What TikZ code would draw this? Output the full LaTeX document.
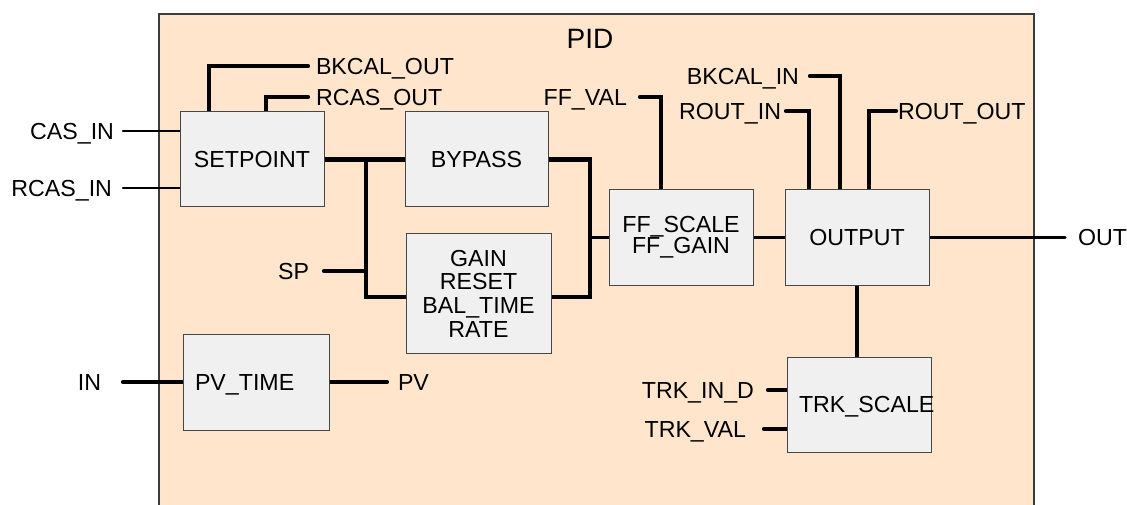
\documentclass[tikz,border=0pt]{standalone}
\usepackage{fontspec}
\setmainfont{Liberation Sans}
\definecolor{framefill}{RGB}{255,229,204}
\definecolor{frameline}{RGB}{60,60,60}
\definecolor{boxfill}{RGB}{240,240,240}
\definecolor{boxline}{RGB}{70,70,70}
\pgfdeclarelayer{framelayer}
\pgfdeclarelayer{wirelayer}
\pgfsetlayers{framelayer,wirelayer,main}
\begin{document}
\begin{tikzpicture}[x=1pt,y=-1pt,
  every node/.style={font=\fontsize{23.2}{23.7}\selectfont, inner sep=0pt, outer sep=0pt},
  blk/.style={draw=boxline, fill=boxfill, line width=1pt, rectangle, align=center},
  one/.style={text height=16.6pt, text depth=0pt},
  lbl/.style={text height=16.6pt, text depth=0pt},
  wire/.style={line width=4.2pt, line cap=round, line join=miter},
  midwire/.style={line width=3.2pt, line cap=round},
  thinwire/.style={line width=2.4pt, line cap=round}]
\useasboundingbox (0,0) rectangle (1127,505);

\begin{pgfonlayer}{framelayer}
  \fill[framefill] (159,14) rectangle (1034,505);
  \draw[frameline, line width=1.2pt] (159,505) -- (159,14) -- (1034,14) -- (1034,505);
\end{pgfonlayer}

% title
\node[font=\fontsize{28}{30}\selectfont, text height=20pt, text depth=0pt] (pid) at (590,39) {PID};

% blocks
\node[blk, one, minimum width=144pt, minimum height=95pt] (setpoint) at (252,159.5) {SETPOINT};
\node[blk, one, minimum width=143pt, minimum height=95pt] (bypass) at (476.5,159.5) {BYPASS};
\node[blk, minimum width=145pt, minimum height=119pt] (gain) at (478.5,293.5)
  {GAIN\\RESET\\BAL\_TIME\\RATE};
\node[blk, one, minimum width=146pt, minimum height=96pt, text width=122pt, align=left] (pvtime) at (256,382) {PV\_TIME};
\node[blk, minimum width=144pt, minimum height=95pt, font=\fontsize{23.2}{21}\selectfont] (ff) at (681,237.5) {FF\_SCALE\\FF\_GAIN};
\node[blk, one, minimum width=144pt, minimum height=95pt] (output) at (857,237.5) {OUTPUT};
\node[blk, one, minimum width=144pt, minimum height=95pt, text width=120pt, align=left] (trk) at (859,404.5) {TRK\_SCALE};

% labels
\node[lbl, anchor=west] (bkcalout) at (316,66) {BKCAL\_OUT};
\node[lbl, anchor=west] (rcasout) at (316,97) {RCAS\_OUT};
\node[lbl, anchor=east] (casin) at (114,131) {CAS\_IN};
\node[lbl, anchor=east] (rcasin) at (112,188) {RCAS\_IN};
\node[lbl, anchor=east] (sp) at (309,271) {SP};
\node[lbl, anchor=east] (ffval) at (627,97) {FF\_VAL};
\node[lbl, anchor=east] (bkcalin) at (799,76) {BKCAL\_IN};
\node[lbl, anchor=east] (routin) at (781,111) {ROUT\_IN};
\node[lbl, anchor=west] (routout) at (898,111) {ROUT\_OUT};
\node[lbl, anchor=west] (out) at (1078,237.5) {OUT};
\node[lbl, anchor=east] (trkind) at (754,390) {TRK\_IN\_D};
\node[lbl, anchor=east] (trkval) at (746,429) {TRK\_VAL};
\node[lbl, anchor=east] (in) at (101,382) {IN};
\node[lbl, anchor=west] (pv) at (398,382) {PV};

\coordinate (j1) at (366,159.5);
\coordinate (j2) at (590,297);

\begin{pgfonlayer}{wirelayer}
  \draw[wire] ([xshift=29pt]setpoint.north west) |- ([xshift=-8pt]bkcalout.west);
  \draw[wire] ([xshift=86pt]setpoint.north west) |- ([xshift=-8pt]rcasout.west);
  \draw[thinwire] ([xshift=9pt]casin.east) -- (setpoint.west |- casin.east);
  \draw[thinwire] ([xshift=11pt]rcasin.east) -- (setpoint.west |- rcasin.east);
  \draw[wire] (setpoint.east) -- (bypass.west);
  \draw[wire] (j1) |- ([yshift=-3.5pt]gain.west);
  \draw[wire] ([xshift=15pt]sp.east) -- (j1 |- sp.east);
  \draw[wire] (bypass.east) -| (j2) -- (j2 -| gain.east);
  \draw[midwire] (j2 |- ff.west) -- (ff.west);
  \draw[wire] ([xshift=52pt]ff.north west) |- ([xshift=13pt]ffval.east);
  \draw[midwire] (ff.east) -- (output.west);
  \draw[midwire] (output.east) -- ([xshift=-13pt]out.west);
  \draw[wire] ([xshift=24pt]output.north west) |- ([xshift=5pt]routin.east);
  \draw[wire] ([xshift=55pt]output.north west) |- ([xshift=11pt]bkcalin.east);
  \draw[wire] ([xshift=84pt]output.north west) |- ([xshift=-2pt]routout.west);
  \draw[wire] (output.south) -- (output.south |- trk.north);
  \draw[wire] ([xshift=14pt]trkind.east) -- (trk.west |- trkind.east);
  \draw[wire] ([xshift=18pt]trkval.east) -- (trk.west |- trkval.east);
  \draw[wire] ([xshift=22pt]in.east) -- (pvtime.west |- in.east);
  \draw[wire] (pvtime.east) -- ([xshift=-11pt]pv.west);
\end{pgfonlayer}
\end{tikzpicture}
\end{document}
